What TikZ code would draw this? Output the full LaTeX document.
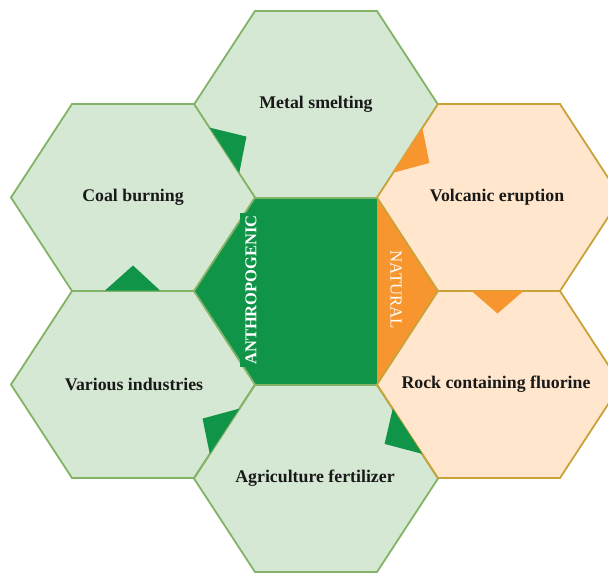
\documentclass[tikz,border=0pt]{standalone}
\usepackage{fontspec}
\setmainfont{Liberation Serif}

\definecolor{hexgreen}{HTML}{D5E8D4}
\definecolor{hexgreenline}{HTML}{82B366}
\definecolor{hexpeach}{HTML}{FFE6CC}
\definecolor{hexpeachline}{HTML}{C9A23A}
\definecolor{coregreen}{HTML}{0F9448}
\definecolor{coreorange}{HTML}{F7962F}

\tikzset{
  greenhex/.style={fill=hexgreen, draw=hexgreenline, line width=1.8pt, line join=miter},
  peachhex/.style={fill=hexpeach, draw=hexpeachline, line width=1.8pt, line join=miter},
  hexlabel/.style={font=\bfseries\fontsize{17.8}{20}\selectfont, text=black!90, inner sep=0pt},
  sidelabel/.style={text=white, inner xsep=2pt, inner ysep=5pt},
}

% flat-topped hexagon (half width 122, half height 93.5) around a named centre
\newcommand\hexcell[2]{\path[#1] ([shift={(-122,0)}]#2) -- ++(61,-93.5) -- ++(122,0)
  -- ++(61,93.5) -- ++(-61,93.5) -- ++(-122,0) -- cycle;}

\begin{document}
\begin{tikzpicture}[x=1pt,y=-1pt]
  \useasboundingbox (0,0) rectangle (608,573);
  \fill[white] (0,0) rectangle (608,573);
  \clip (0,0) rectangle (608,573);

  % cell centres
  \coordinate (Cc) at (316,291);
  \coordinate (Me) at (316,104.5);
  \coordinate (Co) at (133,197.5);
  \coordinate (Vo) at (499,197.5);
  \coordinate (Va) at (133,384.5);
  \coordinate (Ro) at (499,384.5);
  \coordinate (Ag) at (316,478.5);

  % central cell: green body and orange wedge
  \fill[coregreen] ([shift={(-122,0)}]Cc) -- ++(61,-93.5) -- ++(122,0) -- ++(0,187)
    -- ++(-122,0) -- cycle;
  \fill[coreorange] ([shift={(61,-93.5)}]Cc) -- ++(61,93.5) -- ++(-61,93.5) -- cycle;

  % surrounding cells
  \hexcell{greenhex}{Me}
  \hexcell{greenhex}{Co}
  \hexcell{greenhex}{Va}
  \hexcell{greenhex}{Ag}
  \hexcell{peachhex}{Vo}
  \hexcell{peachhex}{Ro}

  % direction flags on shared edges
  \fill[coregreen] (209.75,127.64) -- (246.44,136.59) -- (239.25,172.86) -- cycle;
  \fill[coreorange] (422.25,127.64) -- (429.44,162.91) -- (392.75,172.86) -- cycle;
  \fill[coreorange] (471,290.5) -- (497.5,313.5) -- (524,290.5) -- cycle;
  \fill[coregreen] (392.75,408.64) -- (384.56,443.91) -- (422.25,453.86) -- cycle;
  \fill[coregreen] (239.25,408.64) -- (202.56,418.59) -- (209.75,453.86) -- cycle;
  \fill[coregreen] (105,290.5) -- (133,265.5) -- (160,290.5) -- cycle;

  % labels
  \node[hexlabel] (metal) at (316,104) {Metal smelting};
  \node[hexlabel] (coal) at (133,197) {Coal burning};
  \node[hexlabel] (volcano) at (497,197) {Volcanic eruption};
  \node[hexlabel] (industry) at (134,384) {Various industries};
  \node[hexlabel] (rock) at (496,384) {Rock containing fluorine};
  \node[hexlabel] (farm) at (315,478) {Agriculture fertilizer};

  \node[sidelabel, fill=coregreen, rotate=90, font=\bfseries\fontsize{16.5}{18}\selectfont]
    (anthro) at (251,290) {ANTHROPOGENIC};
  \node[sidelabel, rotate=-90, font=\fontsize{16.8}{18}\selectfont]
    (natural) at (396,290) {NATURAL};
\end{tikzpicture}
\end{document}
